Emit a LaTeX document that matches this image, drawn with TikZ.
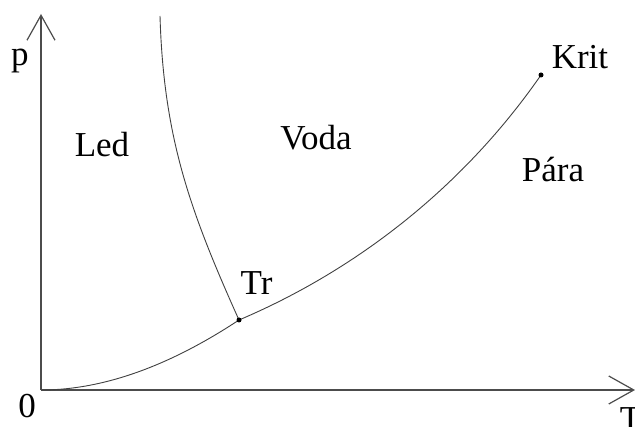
\documentclass[tikz,border=0pt]{standalone}
\usepackage{fontspec}
\setmainfont{Liberation Serif}
\usetikzlibrary{arrows.meta, positioning}
\tikzstyle{osa} = [line width=1.2pt, draw=black!70, -{Straight Barb[length=25pt,width=28pt]}]
\tikzstyle{krivka} = [line width=0.9pt, draw=black!75]
\tikzstyle{bod} = [circle, fill=black, inner sep=0pt, minimum size=5pt]
\tikzstyle{popis} = [font=\fontsize{35}{40}\selectfont, inner sep=0pt]

\begin{document}
\begin{tikzpicture}[x=1pt, y=-1pt]
    \useasboundingbox (0,0) rectangle (635,427);

    % Body
    \coordinate (O) at (41,390);
    \coordinate (pkonec) at (41,14);
    \coordinate (Tkonec) at (635,390);
    \coordinate (Tr) at (239,320);
    \coordinate (Krit) at (541,75);
    \coordinate (tani) at (160,16);

    % Osy
    \draw[osa] (O) -- (pkonec);
    \draw[osa] (O) -- (Tkonec);

    % Krivky
    \draw[krivka] (O) .. controls (111,390) and (179,359.6) .. (Tr);
    \draw[krivka] (Tr) .. controls (360.5,268.4) and (465.8,183.5) .. (Krit);
    \draw[krivka] (Tr) .. controls (189.5,210) and (163.6,137) .. (tani);

    % Body na krivkach
    \node[bod] (trbod) at (Tr) {};
    \node[bod] (kritbod) at (Krit) {};

    % Popisky
    \node[popis] (osap) at (20,61) {p};
    \node[popis] (osaT) at (630.5,419.5) {T};
    \node[popis] (nula) at (27,406.5) {0};
    \node[popis] (led) at (102,145) {Led};
    \node[popis] (voda) at (316,138) {Voda};
    \node[popis] (para) at (553,169.5) {Pára};
    \node[popis] (trlabel) at (256.5,283.5) {Tr};
    \node[popis] (kritlabel) at (580,57.5) {Krit};
\end{tikzpicture}
\end{document}
